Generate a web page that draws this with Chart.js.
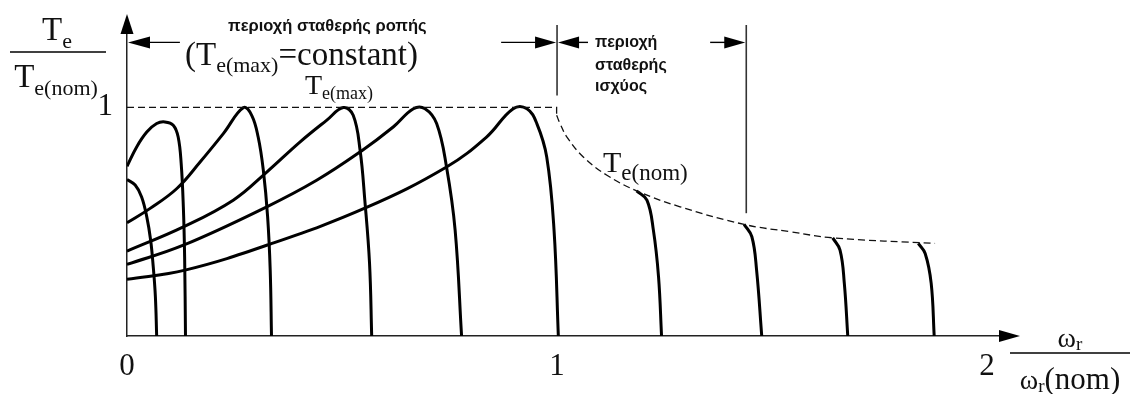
<!DOCTYPE html>
<html>
<head>
<meta charset="utf-8">
<script src="https://cdn.jsdelivr.net/npm/chart.js@4.4.1/dist/chart.umd.min.js"></script>
<style>
  html, body { margin: 0; padding: 0; background: #fff; }
  #wrap { position: relative; width: 1133px; height: 394px; }
</style>
</head>
<body>
<div id="wrap"><canvas id="chart"></canvas></div>
<script>
// x: speed ratio ω_r / ω_r(nom), y: torque ratio T_e / T_e(nom)
const xTicks = [0, 1, 2];
const yTicks = [1];

// torque-speed curves, constant torque region
const curveA = [[0, 0.684], [0.019, 0.66], [0.034, 0.608], [0.046, 0.521], [0.055, 0.419], [0.061, 0.303], [0.066, 0.172], [0.069, 0]];
const curveB = [[0, 0.742], [0.0225, 0.827], [0.046, 0.892], [0.069, 0.929], [0.088, 0.936], [0.108, 0.921], [0.119, 0.870], [0.126, 0.754], [0.131, 0.565], [0.134, 0.346], [0.136, 0]];
const curveC = [[0, 0.495], [0.053, 0.557], [0.116, 0.645], [0.170, 0.761], [0.224, 0.885], [0.271, 0.999], [0.290, 0.965], [0.305, 0.870], [0.317, 0.725], [0.327, 0.521], [0.333, 0.288], [0.336, 0]];
const curveD = [[0, 0.371], [0.131, 0.477], [0.247, 0.594], [0.325, 0.717], [0.402, 0.848], [0.464, 0.943], [0.503, 0.999], [0.526, 0.965], [0.542, 0.812], [0.553, 0.594], [0.564, 0.317], [0.569, 0]];
const curveE = [[0, 0.313], [0.131, 0.397], [0.325, 0.565], [0.441, 0.681], [0.542, 0.805], [0.619, 0.914], [0.666, 0.994], [0.693, 0.994], [0.720, 0.929], [0.743, 0.739], [0.763, 0.463], [0.778, 0]];
const curveF = [[0, 0.248], [0.135, 0.288], [0.333, 0.402], [0.557, 0.562], [0.743, 0.739], [0.836, 0.870], [0.898, 0.994], [0.930, 0.994], [0.953, 0.929], [0.976, 0.783], [0.993, 0.463], [1.003, 0]];

// torque-speed curves, constant power region
const curveG = [[1.185, 0.635], [1.209, 0.594], [1.224, 0.463], [1.236, 0.259], [1.243, 0]];
const curveH = [[1.435, 0.488], [1.453, 0.434], [1.464, 0.288], [1.476, 0]];
const curveI = [[1.641, 0.429], [1.658, 0.376], [1.668, 0.230], [1.676, 0]];
const curveJ = [[1.840, 0.405], [1.856, 0.361], [1.870, 0.230], [1.877, 0]];

// limits: T_e(max) up to base speed, T_e(nom) envelope above it
const tMaxLimit = [[0, 1], [0.999, 1], [0.999, 0.965]];
const tNomLimit = [[0.999, 0.965], [1.007, 0.929], [1.023, 0.870], [1.061, 0.783], [1.116, 0.703], [1.185, 0.635], [1.286, 0.565], [1.435, 0.488], [1.542, 0.456], [1.643, 0.429], [1.879, 0.405]];

// region boundaries
const baseSpeedEdge = [[1, 1.052], [1, 1.36]];
const powerRegionEdge = [[1.44, 0.537], [1.44, 1.36]];

const pts = a => a.map(([x, y]) => ({ x, y }));

const solid = data => ({
  data: pts(data), showLine: true, borderColor: '#000', borderWidth: 3,
  tension: 0.4, pointRadius: 0, fill: false
});
const dashed = (data, tension) => ({
  data: pts(data), showLine: true, borderColor: '#111', borderWidth: 1.3,
  borderDash: [7, 4], tension, pointRadius: 0, fill: false
});
const edge = data => ({
  data: pts(data), showLine: true, borderColor: '#333', borderWidth: 1.6,
  tension: 0, pointRadius: 0, fill: false
});

const SERIF = '"Liberation Serif", "Times New Roman", serif';
const SANS = '"Liberation Sans", Arial, sans-serif';

// text made of base + subscript pieces: [text, size, dy]
function rich(ctx, parts, x, y) {
  let cx = x;
  for (const [t, size, dy] of parts) {
    ctx.font = size + 'px ' + SERIF;
    ctx.fillText(t, cx, y + dy);
    cx += ctx.measureText(t).width;
  }
  return cx;
}
function richWidth(ctx, parts) {
  let w = 0;
  for (const [t, size] of parts) {
    ctx.font = size + 'px ' + SERIF;
    w += ctx.measureText(t).width;
  }
  return w;
}

function arrowHead(ctx, tx, ty, dir, len, half) {
  ctx.beginPath();
  ctx.moveTo(tx, ty);
  if (dir === 'left') { ctx.lineTo(tx + len, ty - half); ctx.lineTo(tx + len, ty + half); }
  if (dir === 'right') { ctx.lineTo(tx - len, ty - half); ctx.lineTo(tx - len, ty + half); }
  if (dir === 'up') { ctx.lineTo(tx - half, ty + len); ctx.lineTo(tx + half, ty + len); }
  ctx.closePath();
  ctx.fill();
}

const decor = {
  id: 'decor',
  afterDraw(chart) {
    const { ctx, chartArea, scales: { x, y } } = chart;
    ctx.save();
    ctx.fillStyle = '#000';
    ctx.strokeStyle = '#000';
    ctx.lineWidth = 1.4;

    // axis arrows
    arrowHead(ctx, x.getPixelForValue(0), 14, 'up', 20, 6.5);
    const ax = y.getPixelForValue(0);
    ctx.beginPath(); ctx.moveTo(chartArea.right, ax); ctx.lineTo(1002, ax); ctx.stroke();
    arrowHead(ctx, 1020, ax, 'right', 21, 6);

    // region dimension arrows
    const ay = y.getPixelForValue(1.284);
    const seg = (a, b) => {
      ctx.beginPath(); ctx.moveTo(x.getPixelForValue(a), ay); ctx.lineTo(x.getPixelForValue(b), ay); ctx.stroke();
    };
    seg(0.123, 0.03); arrowHead(ctx, x.getPixelForValue(0) + 1, ay, 'left', 22, 6);
    seg(0.870, 0.95); arrowHead(ctx, x.getPixelForValue(1) - 1, ay, 'right', 21, 6);
    seg(1.072, 1.03); arrowHead(ctx, x.getPixelForValue(1) + 1, ay, 'left', 21, 6);
    seg(1.356, 1.40); arrowHead(ctx, x.getPixelForValue(1.44) - 1, ay, 'right', 21, 6);

    // region names
    ctx.fillStyle = '#111';
    ctx.textAlign = 'left';
    ctx.textBaseline = 'alphabetic';
    ctx.font = 'bold 16.5px ' + SANS;
    ctx.fillText('περιοχή σταθερής ροπής', 228, 31);
    ctx.font = 'bold 16px ' + SANS;
    ctx.fillText('περιοχή', 595, 47);
    ctx.fillText('σταθερής', 595, 70);
    ctx.fillText('ισχύος', 595, 91);

    // formula labels
    rich(ctx, [['(T', 33, 0], ['e(max)', 22, 7], ['=constant)', 33, 0]], 185, 65);
    rich(ctx, [['T', 28, 0], ['e(max)', 18, 5]], 305, 94);
    rich(ctx, [['T', 30, 0], ['e(nom)', 23, 8]], 603, 172);

    // y axis title as a fraction
    const num = [['T', 33, 0], ['e', 22, 8]];
    const den = [['T', 33, 0], ['e(nom)', 22, 8]];
    rich(ctx, num, 57 - richWidth(ctx, num) / 2, 40);
    rich(ctx, den, 56 - richWidth(ctx, den) / 2, 87);
    ctx.lineWidth = 1.5;
    ctx.beginPath(); ctx.moveTo(10, 52); ctx.lineTo(106, 52); ctx.stroke();

    // x axis title as a fraction
    const xnum = [['ω', 28, 0], ['r', 19, 3]];
    const xden = [['ω', 28, 0], ['r', 19, 3], ['(nom)', 31, 0]];
    rich(ctx, xnum, 1070 - richWidth(ctx, xnum) / 2, 347);
    rich(ctx, xden, 1070 - richWidth(ctx, xden) / 2, 389);
    ctx.beginPath(); ctx.moveTo(1010, 353); ctx.lineTo(1130, 353); ctx.stroke();

    ctx.restore();
  }
};

new Chart(document.getElementById('chart'), {
  type: 'scatter',
  data: {
    datasets: [
      dashed(tMaxLimit, 0),
      dashed(tNomLimit, 0.4),
      edge(baseSpeedEdge),
      edge(powerRegionEdge),
      solid(curveA), solid(curveB), solid(curveC), solid(curveD), solid(curveE), solid(curveF),
      solid(curveG), solid(curveH), solid(curveI), solid(curveJ)
    ]
  },
  options: {
    responsive: true,
    maintainAspectRatio: false,
    animation: false,
    layout: { padding: { left: 0, right: 133, top: 25, bottom: 0 } },
    plugins: { legend: { display: false }, tooltip: { enabled: false } },
    scales: {
      x: {
        type: 'linear', min: 0, max: 2.03,
        grid: { display: false },
        border: { display: true, color: '#222', width: 1.5 },
        ticks: { font: { family: SERIF, size: 31 }, color: '#111', padding: 4, maxRotation: 0, callback: v => String(v) },
        afterBuildTicks: s => { s.ticks = xTicks.map(v => ({ value: v })); },
        afterFit: s => { s.height = 58; }
      },
      y: {
        type: 'linear', min: 0, max: 1.36,
        grid: { display: false },
        border: { display: true, color: '#222', width: 1.5 },
        ticks: { font: { family: SERIF, size: 31 }, color: '#111', padding: 6, callback: v => String(v) },
        afterBuildTicks: s => { s.ticks = yTicks.map(v => ({ value: v })); },
        afterFit: s => { s.width = 127; }
      }
    }
  },
  plugins: [decor]
});
</script>
</body>
</html>
